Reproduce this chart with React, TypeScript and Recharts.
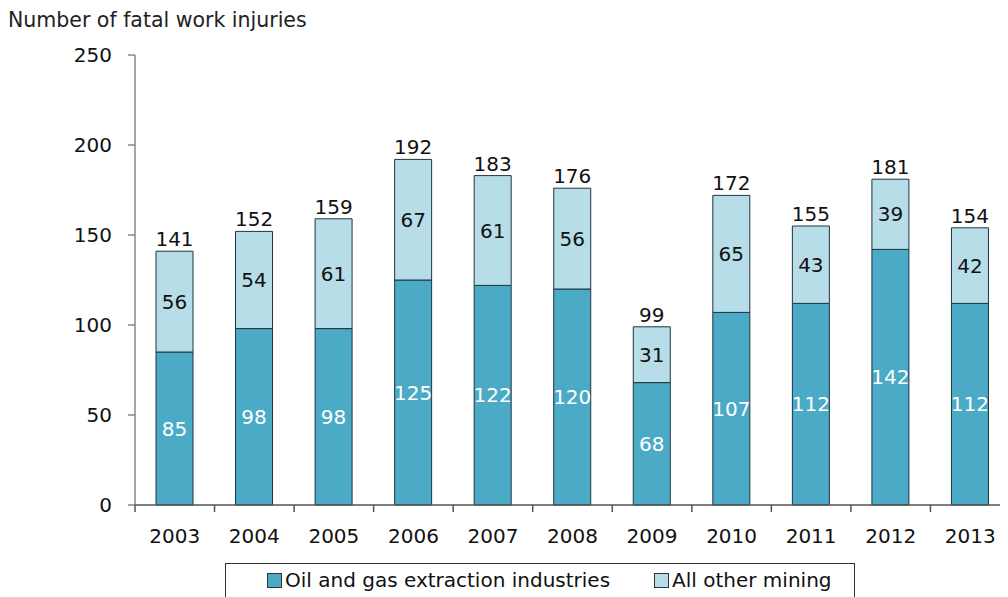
import React from 'react';
import { BarChart, Bar, XAxis, YAxis, LabelList } from 'recharts';

// Fatal work injuries in mining, 2003-2013
const years = ['2003', '2004', '2005', '2006', '2007', '2008', '2009', '2010', '2011', '2012', '2013'];
const oilGas = [85, 98, 98, 125, 122, 120, 68, 107, 112, 142, 112];
const otherMining = [56, 54, 61, 67, 61, 56, 31, 65, 43, 39, 42];
const totals = [141, 152, 159, 192, 183, 176, 99, 172, 155, 181, 154];
const yTicks = [0, 50, 100, 150, 200, 250];

const OIL_COLOR = '#4babc7';
const OTHER_COLOR = '#b7dee8';
const FONT = '"DejaVu Sans", Verdana, sans-serif';
const FS = 20;

const data = years.map((year, i) => ({
  year,
  oil: oilGas[i],
  other: otherMining[i],
  total: totals[i],
}));

const YearTick = (props: any) => {
  const { x, y, payload } = props;
  const half = payload && payload.offset ? payload.offset : 39.75;
  return (
    <g>
      <line x1={x - half} y1={y} x2={x - half} y2={y + 7} stroke="#555" strokeWidth={1.5} />
      <text x={x} y={y + 38} textAnchor="middle" fill="#111" fontSize={FS} fontFamily={FONT}>
        {payload.value}
      </text>
    </g>
  );
};

const LegendSwatch: React.FC<{ color: string }> = ({ color }) => (
  <span
    style={{
      display: 'inline-block',
      width: 13,
      height: 13,
      background: color,
      border: '1px solid #333',
      marginRight: 3,
    }}
  />
);

export default function App() {
  return (
    <div
      style={{
        position: 'relative',
        width: 1008,
        height: 597,
        marginTop: -8,
        marginLeft: -8,
        overflow: 'hidden',
        background: '#fff',
        fontFamily: FONT,
      }}
    >
      <div style={{ position: 'absolute', left: 8, top: 8, fontSize: 20.5, color: '#222' }}>
        Number of fatal work injuries
      </div>

      <BarChart
        width={1020}
        height={597}
        data={data}
        margin={{ top: 55, right: 10, left: 0, bottom: 52 }}
        barSize={37}
      >
        <YAxis
          width={135}
          domain={[0, 250]}
          ticks={yTicks}
          interval={0}
          tickSize={7}
          tickMargin={16}
          axisLine={{ stroke: '#888', strokeWidth: 1.5 }}
          tickLine={{ stroke: '#888', strokeWidth: 1.5 }}
          tick={{ fill: '#111', fontSize: FS, fontFamily: FONT }}
        />
        <XAxis
          dataKey="year"
          height={40}
          interval={0}
          tickSize={0}
          tickMargin={0}
          tickLine={false}
          axisLine={{ stroke: '#555', strokeWidth: 1.5 }}
          tick={<YearTick />}
        />
        <Bar dataKey="oil" stackId="a" fill={OIL_COLOR} stroke="#1e3440" strokeWidth={1} isAnimationActive={false}>
          <LabelList dataKey="oil" position="center" fill="#fff" fontSize={FS} fontFamily={FONT} />
        </Bar>
        <Bar dataKey="other" stackId="a" fill={OTHER_COLOR} stroke="#1e3440" strokeWidth={1} isAnimationActive={false}>
          <LabelList dataKey="other" position="center" fill="#111" fontSize={FS} fontFamily={FONT} />
          <LabelList dataKey="total" position="top" offset={5} fill="#111" fontSize={FS} fontFamily={FONT} />
        </Bar>
      </BarChart>

      <div
        style={{
          position: 'absolute',
          left: 225,
          top: 563,
          width: 630,
          height: 40,
          border: '1.5px solid #333',
          display: 'flex',
          alignItems: 'center',
          paddingLeft: 41,
          boxSizing: 'border-box',
          fontSize: FS,
          color: '#111',
          paddingBottom: 6,
        }}
      >
        <span style={{ display: 'flex', alignItems: 'center' }}>
          <LegendSwatch color={OIL_COLOR} />
          Oil and gas extraction industries
        </span>
        <span style={{ display: 'flex', alignItems: 'center', marginLeft: 44 }}>
          <LegendSwatch color={OTHER_COLOR} />
          All other mining
        </span>
      </div>
    </div>
  );
}
